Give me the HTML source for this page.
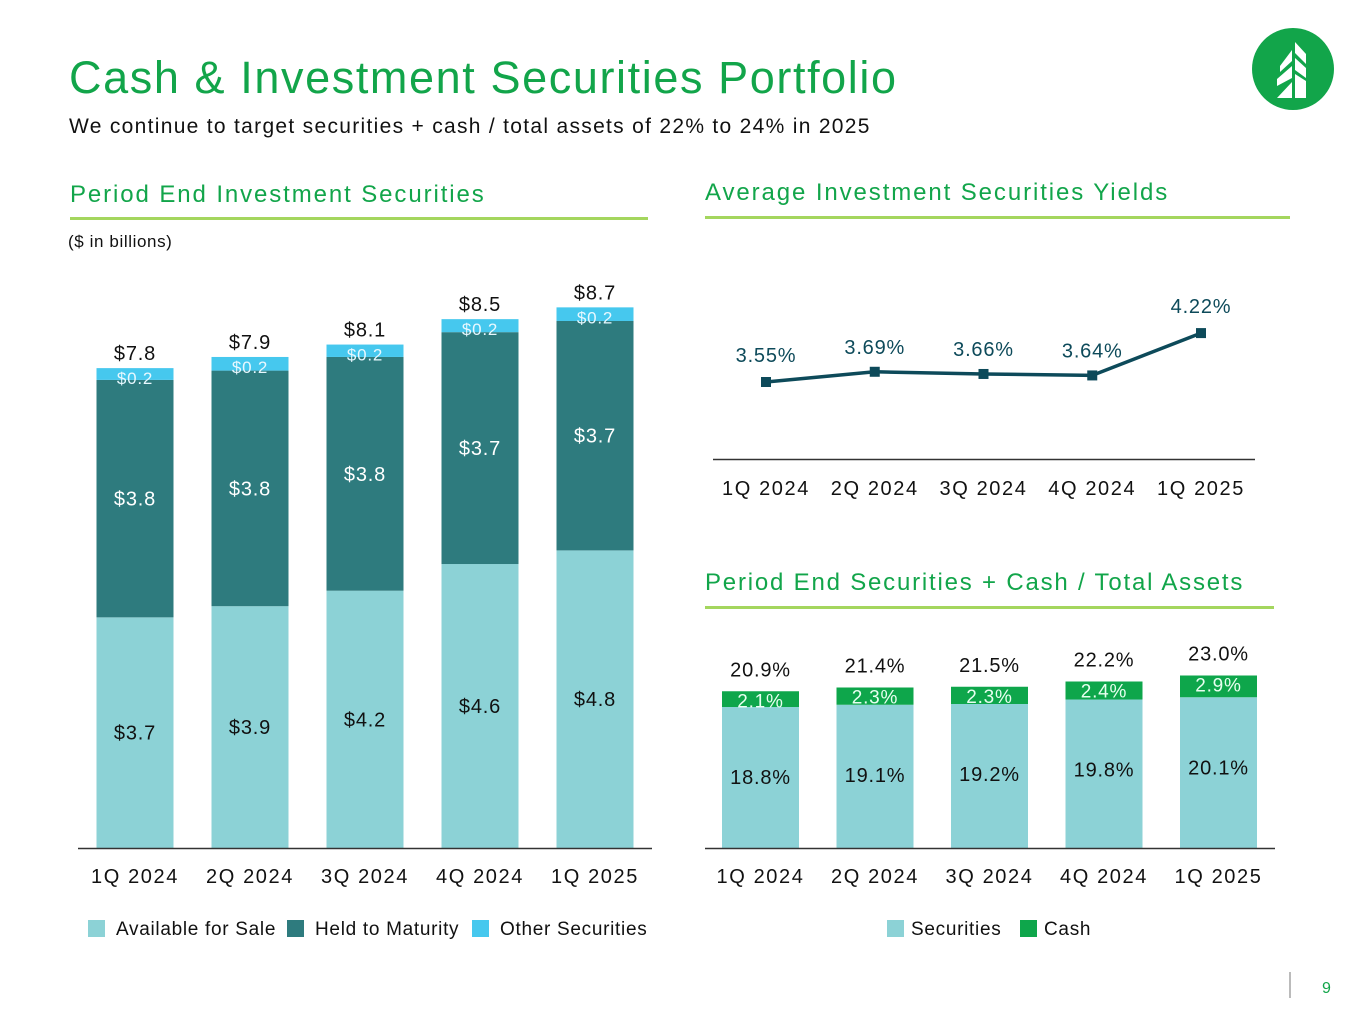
<!DOCTYPE html>
<html><head><meta charset="utf-8"><style>
body{margin:0;width:1365px;height:1024px;background:#fff;font-family:"Liberation Sans",sans-serif;position:relative;overflow:hidden}
.t{position:absolute;white-space:nowrap}
svg text{letter-spacing:0.8px}
svg text.tick{letter-spacing:1.6px}
svg text.leg{letter-spacing:0.7px}
</style></head><body>
<div class="t" style="left:69px;top:52px;font-size:45px;color:#12a54a;letter-spacing:1.6px">Cash &amp; Investment Securities Portfolio</div>
<div class="t" style="left:69px;top:115px;font-size:21px;color:#111;letter-spacing:1.3px">We continue to target securities + cash / total assets of 22% to 24% in 2025</div>
<svg style="position:absolute;left:1252px;top:28px" width="82" height="82" viewBox="0 0 82 82">
<circle cx="41" cy="41" r="41" fill="#12a54a"/>
<polygon points="43,14 54,26 54,36 43,25" fill="#fff"/><polygon points="43,30 54,40 54,50 43,42" fill="#fff"/><polygon points="43,46 54,53 54,70 43,70" fill="#fff"/>
<polygon points="40,22 40,33 28,44 28,38" fill="#fff"/><polygon points="40,38 40,50 25,58 25,51" fill="#fff"/><polygon points="40,54 40,70 25,70" fill="#fff"/>
</svg>
<div class="t" style="left:70px;top:181px;font-size:24px;color:#12a54a;letter-spacing:1.9px">Period End Investment Securities</div>
<div style="position:absolute;left:70px;top:217px;width:578px;height:3px;background:#a4d65e"></div>
<div class="t" style="left:68px;top:232px;font-size:17px;color:#111;letter-spacing:0.6px">($ in billions)</div>
<div class="t" style="left:705px;top:179px;font-size:24px;color:#12a54a;letter-spacing:1.9px">Average Investment Securities Yields</div>
<div style="position:absolute;left:705px;top:216px;width:585px;height:3px;background:#a4d65e"></div>
<div class="t" style="left:705px;top:569px;font-size:24px;color:#12a54a;letter-spacing:1.8px">Period End Securities + Cash / Total Assets</div>
<div style="position:absolute;left:705px;top:606px;width:569px;height:3px;background:#a4d65e"></div>
<div class="t" style="left:1322px;top:980px;font-size:16px;color:#12a54a">9</div>
<div style="position:absolute;left:1289px;top:972px;width:2px;height:26px;background:#bbb"></div>
<svg id="c" width="1365" height="1024" style="position:absolute;left:0;top:0"></svg>
<script>
const cats=["1Q 2024","2Q 2024","3Q 2024","4Q 2024","1Q 2025"];
const afs=[3.72,3.9,4.15,4.58,4.8];
const htm=[3.83,3.8,3.77,3.74,3.7];
const oth=[0.19,0.22,0.2,0.21,0.22];
const afsLbl=["$3.7","$3.9","$4.2","$4.6","$4.8"];
const htmLbl=["$3.8","$3.8","$3.8","$3.7","$3.7"];
const othLbl=["$0.2","$0.2","$0.2","$0.2","$0.2"];
const totLbl=["$7.8","$7.9","$8.1","$8.5","$8.7"];
const yields=[3.55,3.69,3.66,3.64,4.22];
const sec=[18.8,19.1,19.2,19.8,20.1];
const cash=[2.1,2.3,2.3,2.4,2.9];
const ratioTot=["20.9%","21.4%","21.5%","22.2%","23.0%"];
const svg=document.getElementById('c');const NS="http://www.w3.org/2000/svg";
function mk(t,a,txt){const e=document.createElementNS(NS,t);for(const k in a)e.setAttribute(k,a[k]);if(txt!==undefined)e.textContent=txt;svg.appendChild(e);return e;}
// left chart
const lx=i=>135+i*115, ly=v=>848-v*62;
cats.forEach((c,i)=>{
 const x=lx(i)-38.5;
 let r=mk('rect',{x:x,y:ly(afs[i]),width:77,height:afs[i]*62,fill:'#8cd2d6'});
 
 r=mk('rect',{x:x,y:ly(afs[i]+htm[i]),width:77,height:htm[i]*62,fill:'#2e7b7e'});
 
 r=mk('rect',{x:x,y:ly(afs[i]+htm[i]+oth[i]),width:77,height:oth[i]*62,fill:'#46c8ee'});
 
 let t=mk('text',{x:lx(i),y:ly(afs[i]/2)+7,'text-anchor':'middle','font-size':20,fill:'#111'},afsLbl[i]);
 
 t=mk('text',{x:lx(i),y:ly(afs[i]+htm[i]/2)+7,'text-anchor':'middle','font-size':20,fill:'#fff'},htmLbl[i]);
 
 t=mk('text',{x:lx(i),y:ly(afs[i]+htm[i]+oth[i])+16,'text-anchor':'middle','font-size':17,fill:'#e8f8ff'},othLbl[i]);
 
 t=mk('text',{x:lx(i),y:ly(afs[i]+htm[i]+oth[i])-8,'text-anchor':'middle','font-size':20,fill:'#111'},totLbl[i]);
 
 t=mk('text',{x:lx(i),y:883,'text-anchor':'middle','font-size':20,fill:'#111',class:'tick'},c);
 
});
let a=mk('line',{x1:78,x2:652,y1:848.5,y2:848.5,stroke:'#333','stroke-width':1.5});

// left legend
[["Available for Sale","#8cd2d6",88],["Held to Maturity","#2e7b7e",287],["Other Securities","#46c8ee",472]].forEach(l=>{
 let r=mk('rect',{x:l[2],y:920,width:17,height:17,fill:l[1]});
 let t=mk('text',{x:l[2]+28,y:935,'font-size':19,fill:'#111',class:'leg'},l[0]);
});
// line chart
const yx=i=>766+i*108.75, yy=v=>382-(v-3.55)*73;
let d=yields.map((v,i)=>(i?'L':'M')+yx(i)+','+yy(v)).join(' ');
let p=mk('path',{d:d,fill:'none',stroke:'#0d4a5a','stroke-width':3.5});

const yOff=[-20,-18,-18,-18,-20];
yields.forEach((v,i)=>{
 let r=mk('rect',{x:yx(i)-5,y:yy(v)-5,width:10,height:10,fill:'#0d4a5a'});
 let t=mk('text',{x:yx(i),y:yy(v)+yOff[i],'text-anchor':'middle','font-size':20,fill:'#0d4a5a'},v.toFixed(2)+'%');
 
 t=mk('text',{x:yx(i),y:495,'text-anchor':'middle','font-size':20,fill:'#111',class:'tick'},cats[i]);
 
});
a=mk('line',{x1:713,x2:1255,y1:459.5,y2:459.5,stroke:'#333','stroke-width':1.5});

// ratio chart
const rx=i=>760.5+i*114.5, ry=v=>848-v*7.5;
cats.forEach((c,i)=>{
 const x=rx(i)-38.5;
 let r=mk('rect',{x:x,y:ry(sec[i]),width:77,height:sec[i]*7.5,fill:'#8cd2d6'});
 r=mk('rect',{x:x,y:ry(sec[i]+cash[i]),width:77,height:cash[i]*7.5,fill:'#0ea64b'});
 let t=mk('text',{x:rx(i),y:ry(sec[i])+77,'text-anchor':'middle','font-size':20,fill:'#111'},sec[i].toFixed(1)+'%');
 
 t=mk('text',{x:rx(i),y:ry(sec[i]+cash[i])+16,'text-anchor':'middle','font-size':19,fill:'#e8fff0'},cash[i].toFixed(1)+'%');
 
 t=mk('text',{x:rx(i),y:ry(sec[i]+cash[i])-15,'text-anchor':'middle','font-size':20,fill:'#111'},ratioTot[i]);
 
 t=mk('text',{x:rx(i),y:883,'text-anchor':'middle','font-size':20,fill:'#111',class:'tick'},c);
 
});
a=mk('line',{x1:705,x2:1275,y1:848.5,y2:848.5,stroke:'#333','stroke-width':1.5});

[["Securities","#8cd2d6",887],["Cash","#0ea64b",1020]].forEach(l=>{
 let r=mk('rect',{x:l[2],y:920,width:17,height:17,fill:l[1]});
 let t=mk('text',{x:l[2]+24,y:935,'font-size':19,fill:'#111',class:'leg'},l[0]);
});
</script>
</body></html>
